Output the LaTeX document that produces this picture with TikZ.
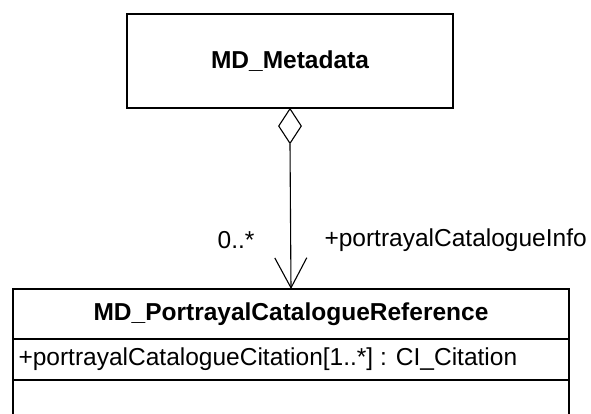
\documentclass[tikz,border=0pt]{standalone}
\usepackage{fontspec}
\setmainfont{Liberation Sans}
\usetikzlibrary{shapes.geometric,arrows.meta}
\begin{document}
\begin{tikzpicture}[x=1pt,y=-1pt,
  umlbox/.style={draw, line width=1.3pt, inner sep=0pt, outer sep=0pt},
  txt/.style={font=\fontsize{24.5}{28}\selectfont},
  btxt/.style={font=\fontsize{24.5}{28}\selectfont\bfseries},
  conn/.style={line width=1.1pt}]
\useasboundingbox (0,0) rectangle (591,414);
\clip (0,0) rectangle (591,414);
\fill[white] (0,0) rectangle (591,414);
% top class
\node[umlbox, btxt, minimum width=326pt, minimum height=94pt] (md) at (290,61) {MD\_Metadata};
% aggregation diamond
\node[draw, diamond, line width=1.1pt, minimum width=23pt, minimum height=35pt, inner sep=0pt, anchor=north] (dia) at (md.south) {};
% bottom class compartments
\node[umlbox, minimum width=556pt, minimum height=50pt, anchor=north west] (ref) at (13,289) {};
\node[btxt] (reftitle) at (ref.center) {MD\_PortrayalCatalogueReference};
\node[umlbox, minimum width=556pt, minimum height=41pt, anchor=north west] (attr) at (ref.south west) {};
\node[txt, anchor=west] (attrtext) at ([xshift=2pt]attr.west) {+portrayalCatalogueCitation[1..*] : CI\_Citation};
\node[umlbox, minimum width=556pt, minimum height=60pt, anchor=north west] (ops) at (attr.south west) {};
% association
\draw[conn, -{Straight Barb[length=30pt, width=32pt, line width=1.1pt]}] (dia.south) -- (ref.north);
\node[txt, anchor=east] (mult) at (258,240) {0..*};
\node[txt, anchor=west] (role) at (321,240) {+portrayalCatalogueInfo};
\end{tikzpicture}
\end{document}
